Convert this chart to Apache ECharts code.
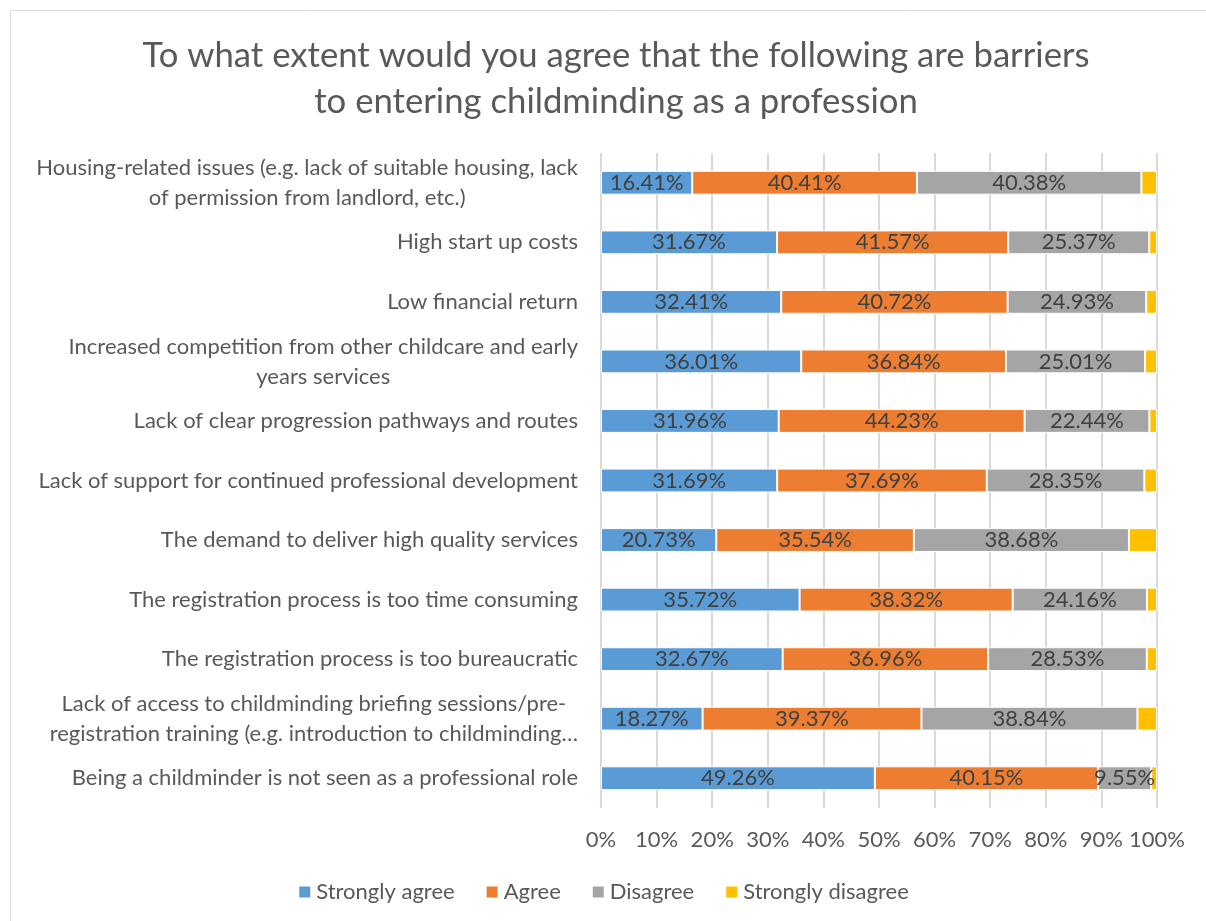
<!DOCTYPE html>
<html>
<head>
<meta charset="utf-8">
<script src="https://cdn.jsdelivr.net/npm/echarts@6/dist/echarts.min.js"></script>
<style>
  html, body { margin: 0; padding: 0; background: #fff; }
  #chart { width: 1206px; height: 921px; }
</style>
</head>
<body>
<div id="chart"></div>
<script>
// Barrier statements, top to bottom
const categories = [
  'Housing-related issues (e.g. lack of suitable housing, lack\nof permission from landlord, etc.)',
  'High start up costs',
  'Low financial return',
  'Increased competition from other childcare and early\nyears services',
  'Lack of clear progression pathways and routes',
  'Lack of support for continued professional development',
  'The demand to deliver high quality services',
  'The registration process is too time consuming',
  'The registration process is too bureaucratic',
  'Lack of access to childminding briefing sessions/pre-\nregistration training (e.g. introduction to childminding…',
  'Being a childminder is not seen as a professional role'
];

// Share of respondents (%) per answer
const stronglyAgree    = [16.41, 31.67, 32.41, 36.01, 31.96, 31.69, 20.73, 35.72, 32.67, 18.27, 49.26];
const agree            = [40.41, 41.57, 40.72, 36.84, 44.23, 37.69, 35.54, 38.32, 36.96, 39.37, 40.15];
const disagree         = [40.38, 25.37, 24.93, 25.01, 22.44, 28.35, 38.68, 24.16, 28.53, 38.84, 9.55];
const stronglyDisagree = [2.80, 1.39, 1.94, 2.14, 1.37, 2.27, 5.05, 1.80, 1.84, 3.52, 1.04];

const seriesNames = ['Strongly agree', 'Agree', 'Disagree', 'Strongly disagree'];
const seriesColors = ['#5B9BD5', '#ED7D31', '#A5A5A5', '#FFC000'];
const seriesData = [stronglyAgree, agree, disagree, stronglyDisagree];

const FONT = 'Lato, "Open Sans", sans-serif';

const chart = echarts.init(document.getElementById('chart'), null, { renderer: 'canvas' });

const series = seriesData.map((data, i) => ({
  name: seriesNames[i],
  type: 'bar',
  stack: 'total',
  data: data,
  barWidth: '40%',
  itemStyle: { color: seriesColors[i], borderColor: '#ffffff', borderWidth: 1 },
  label: {
    show: i < 3,
    position: 'inside',
    color: '#404040',
    fontFamily: FONT,
    fontSize: 22,
    formatter: p => p.value.toFixed(2) + '%'
  },
  emphasis: { disabled: true }
}));

chart.setOption({
  animation: false,
  textStyle: { fontFamily: FONT },
  graphic: [{
    type: 'rect',
    shape: { x: 10.5, y: 10.5, width: 1300, height: 1000 },
    style: { fill: 'none', stroke: '#d9d9d9', lineWidth: 1 },
    silent: true,
    z: -1
  }],
  title: {
    text: 'To what extent would you agree that the following are barriers\nto entering childminding as a profession',
    left: 611,
    top: 28,
    textAlign: 'center',
    textStyle: {
      fontFamily: FONT,
      fontWeight: 'normal',
      fontSize: 34.7,
      lineHeight: 46,
      color: '#595959'
    }
  },
  legend: {
    bottom: 13,
    left: 'center',
    itemWidth: 13,
    itemHeight: 13,
    itemGap: 30,
    icon: 'rect',
    textStyle: { fontFamily: FONT, fontSize: 22, color: '#595959' },
    data: seriesNames
  },
  grid: { left: 601, right: 49, top: 153, bottom: 113 },
  xAxis: {
    type: 'value',
    min: 0,
    max: 100,
    interval: 10,
    axisLine: { show: false },
    axisTick: { show: false },
    splitLine: { show: true, lineStyle: { color: '#d9d9d9', width: 2 } },
    axisLabel: {
      formatter: '{value}%',
      fontFamily: FONT,
      fontSize: 22,
      color: '#595959',
      margin: 21
    }
  },
  yAxis: {
    type: 'category',
    inverse: true,
    data: categories,
    axisLine: { show: false },
    axisTick: { show: false },
    axisLabel: {
      margin: 23,
      fontFamily: FONT,
      fontSize: 22,
      color: '#595959',
      lineHeight: 30,
      formatter: v => v.split('\n').map(line => '{c|' + line + '}').join('\n'),
      rich: {
        c: { align: 'center', fontFamily: FONT, fontSize: 22, color: '#595959', lineHeight: 30 }
      }
    }
  },
  series: series
});
</script>
</body>
</html>
